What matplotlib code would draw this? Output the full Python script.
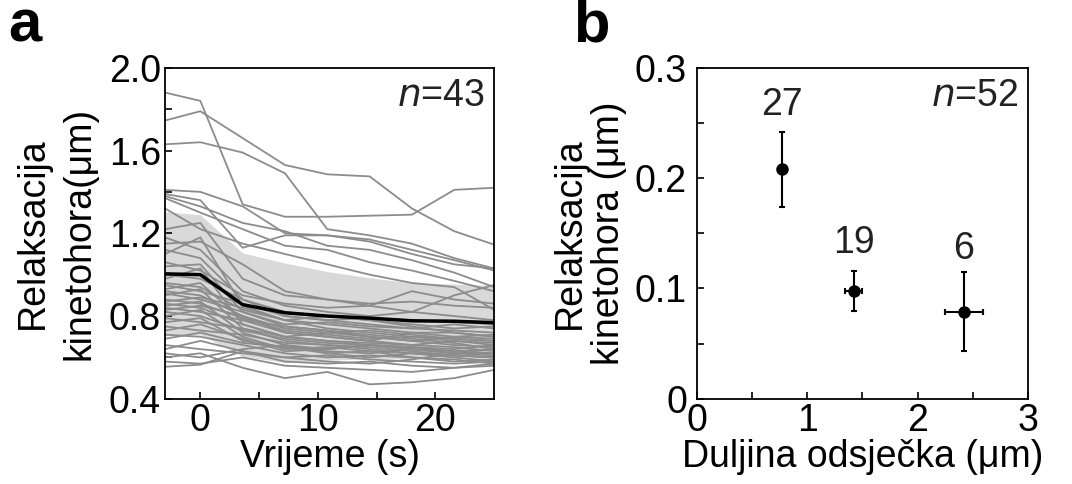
import matplotlib
matplotlib.use("Agg")
from matplotlib import pyplot as plt
from matplotlib.ticker import MultipleLocator, FixedLocator

plt.rcParams['font.family'] = ['Liberation Sans', 'DejaVu Sans']

# panel a: individual kinetochore traces
times = [-3, 0, 3.6, 7.2, 10.8, 14.4, 18, 21.6, 25]
traces = [
    [1.88, 1.84, 1.34, 1.28, 1.28, 1.285, 1.29, 1.41, 1.42],
    [1.745, 1.79, 1.66, 1.53, 1.485, 1.475, 1.32, 1.21, 1.145],
    [1.63, 1.64, 1.59, 1.49, 1.22, 1.19, 1.15, 1.08, 1.03],
    [1.41, 1.40, 1.33, 1.20, 1.19, 1.17, 1.12, 1.07, 1.02],
    [1.39, 1.36, 1.13, 1.19, 1.19, 1.16, 1.10, 1.05, 1.03],
    [1.38, 1.33, 1.25, 1.21, 1.14, 1.12, 1.07, 1.01, 0.94],
    [1.37, 1.30, 1.22, 1.14, 1.12, 1.06, 1.02, 0.97, 0.92],
    [1.32, 1.22, 1.15, 1.10, 1.05, 1.00, 0.96, 0.94, 0.83],
    [1.22, 1.25, 0.98, 0.90, 0.88, 0.86, 0.87, 0.85, 0.84],
    [1.18, 1.12, 0.92, 0.85, 0.82, 0.80, 0.82, 0.90, 0.95],
    [1.15, 1.16, 1.05, 0.92, 0.88, 0.85, 0.82, 0.80, 0.78],
    [1.12, 1.08, 0.88, 0.80, 0.78, 0.76, 0.74, 0.73, 0.72],
    [1.10, 1.18, 0.85, 0.78, 0.74, 0.72, 0.70, 0.69, 0.68],
    [1.06, 1.02, 0.90, 0.86, 0.84, 0.85, 0.92, 0.88, 0.86],
    [1.04, 1.05, 0.82, 0.75, 0.73, 0.70, 0.68, 0.66, 0.65],
    [1.00, 0.98, 0.88, 0.82, 0.80, 0.78, 0.76, 0.74, 0.75],
    [0.98, 1.03, 0.76, 0.70, 0.68, 0.66, 0.64, 0.62, 0.62],
    [0.96, 0.94, 0.83, 0.78, 0.76, 0.74, 0.72, 0.72, 0.70],
    [0.95, 0.92, 0.86, 0.80, 0.78, 0.79, 0.78, 0.77, 0.76],
    [0.93, 0.96, 0.78, 0.72, 0.70, 0.68, 0.66, 0.65, 0.63],
    [0.92, 0.90, 0.80, 0.74, 0.72, 0.73, 0.71, 0.69, 0.68],
    [0.91, 0.88, 0.82, 0.76, 0.77, 0.75, 0.74, 0.76, 0.74],
    [0.90, 0.93, 0.74, 0.68, 0.66, 0.65, 0.63, 0.61, 0.60],
    [0.88, 0.86, 0.79, 0.73, 0.71, 0.69, 0.70, 0.68, 0.66],
    [0.87, 0.89, 0.84, 0.78, 0.80, 0.78, 0.75, 0.72, 0.70],
    [0.86, 0.84, 0.76, 0.70, 0.72, 0.70, 0.68, 0.70, 0.69],
    [0.85, 0.87, 0.72, 0.66, 0.64, 0.66, 0.64, 0.63, 0.62],
    [0.84, 0.82, 0.78, 0.75, 0.73, 0.71, 0.69, 0.67, 0.64],
    [0.83, 0.85, 0.80, 0.72, 0.70, 0.68, 0.72, 0.70, 0.71],
    [0.82, 0.80, 0.73, 0.69, 0.67, 0.66, 0.65, 0.64, 0.66],
    [0.80, 0.83, 0.70, 0.64, 0.65, 0.63, 0.62, 0.61, 0.60],
    [0.79, 0.77, 0.74, 0.70, 0.68, 0.67, 0.66, 0.68, 0.67],
    [0.77, 0.79, 0.68, 0.65, 0.63, 0.62, 0.64, 0.62, 0.61],
    [0.75, 0.73, 0.71, 0.67, 0.66, 0.64, 0.62, 0.60, 0.58],
    [0.73, 0.76, 0.69, 0.63, 0.64, 0.66, 0.65, 0.63, 0.64],
    [0.71, 0.70, 0.66, 0.62, 0.60, 0.61, 0.60, 0.59, 0.57],
    [0.69, 0.72, 0.67, 0.65, 0.62, 0.60, 0.62, 0.61, 0.60],
    [0.66, 0.64, 0.62, 0.60, 0.61, 0.59, 0.58, 0.57, 0.58],
    [0.64, 0.68, 0.63, 0.58, 0.57, 0.58, 0.56, 0.55, 0.56],
    [0.62, 0.60, 0.64, 0.66, 0.62, 0.63, 0.60, 0.58, 0.59],
    [0.60, 0.62, 0.55, 0.50, 0.53, 0.47, 0.48, 0.50, 0.54],
    [0.555, 0.565, 0.63, 0.60, 0.58, 0.57, 0.59, 0.62, 0.64],
    [0.58, 0.57, 0.60, 0.56, 0.55, 0.54, 0.53, 0.55, 0.57],
]
mean_vals = [1.004, 1.0, 0.855, 0.816, 0.80, 0.79, 0.777, 0.775, 0.768]
sd_vals = [0.30, 0.29, 0.25, 0.24, 0.215, 0.195, 0.183, 0.18, 0.18]

# panel b: relaxation vs fragment length
seg_len = [0.77, 1.42, 2.42]
seg_len_err = [0.0, 0.08, 0.17]
relax = [0.208, 0.098, 0.079]
relax_err = [0.034, 0.018, 0.036]
counts = ['27', '19', '6']
count_y = [0.266, 0.141, 0.136]

fig = plt.figure(figsize=(10.72, 4.84), dpi=100)
ax1 = fig.add_axes([0.154, 0.176, 0.307, 0.684])
ax2 = fig.add_axes([0.650, 0.176, 0.309, 0.684])

fs = 27

# --- panel a
lower = [m - s for m, s in zip(mean_vals, sd_vals)]
upper = [m + s for m, s in zip(mean_vals, sd_vals)]
ax1.fill_between(times, lower, upper, color='#d9d9d9', lw=0, zorder=1)
for tr in traces:
    ax1.plot(times, tr, color='#8c8c8c', lw=1.3, zorder=2)
ax1.plot(times, mean_vals, color='black', lw=2.5, zorder=3)

ax1.set_xlim(-3, 25)
ax1.set_ylim(0.4, 2.0)
ax1.set_xticks([0, 10, 20])
ax1.xaxis.set_minor_locator(FixedLocator([5, 15]))
ax1.set_yticks([0.4, 0.8, 1.2, 1.6, 2.0])
ax1.yaxis.set_minor_locator(MultipleLocator(0.2))
ax1.set_yticklabels(['0.4', '0.8', '1.2', '1.6', '2.0'])
ax1.set_xlabel('Vrijeme (s)', fontsize=fs, labelpad=0)
ax1.set_ylabel('Relaksacija\nkinetohora(μm)', fontsize=fs, labelpad=8, linespacing=1.4)
ax1.text(0.97, 0.97, r'$\it{n}$=43', transform=ax1.transAxes, ha='right', va='top',
         fontsize=fs, color='#222222')

# --- panel b
ax2.errorbar(seg_len, relax, yerr=relax_err, xerr=seg_len_err, fmt='o', color='black',
             ms=8, elinewidth=1.5, capsize=2, capthick=1.5)
for x, y, c in zip(seg_len, count_y, counts):
    ax2.text(x, y, c, ha='center', va='center', fontsize=fs, color='#222222')
ax2.text(0.97, 0.97, r'$\it{n}$=52', transform=ax2.transAxes, ha='right', va='top',
         fontsize=fs, color='#222222')

ax2.set_xlim(0, 3)
ax2.set_ylim(0, 0.3)
ax2.set_xticks([0, 1, 2, 3])
ax2.xaxis.set_minor_locator(MultipleLocator(0.5))
ax2.set_yticks([0, 0.1, 0.2, 0.3])
ax2.set_yticklabels(['0', '0.1', '0.2', '0.3'])
ax2.yaxis.set_minor_locator(MultipleLocator(0.05))
ax2.set_xlabel('Duljina odsječka (μm)', fontsize=fs, labelpad=0)
ax2.set_ylabel('Relaksacija\nkinetohora (μm)', fontsize=fs, labelpad=6, linespacing=1.1)

for ax in (ax1, ax2):
    ax.tick_params(which='both', direction='in', labelsize=fs, width=1.2, pad=3)
    ax.tick_params(which='major', length=5)
    ax.tick_params(which='minor', length=5)
    for sp in ax.spines.values():
        sp.set_linewidth(1.3)
ax2.tick_params(axis='y', pad=7)

fig.text(0.008, 0.915, 'a', fontsize=43, fontweight='bold')
fig.text(0.535, 0.915, 'b', fontsize=43, fontweight='bold')

fig.savefig('out.png', dpi=100)
